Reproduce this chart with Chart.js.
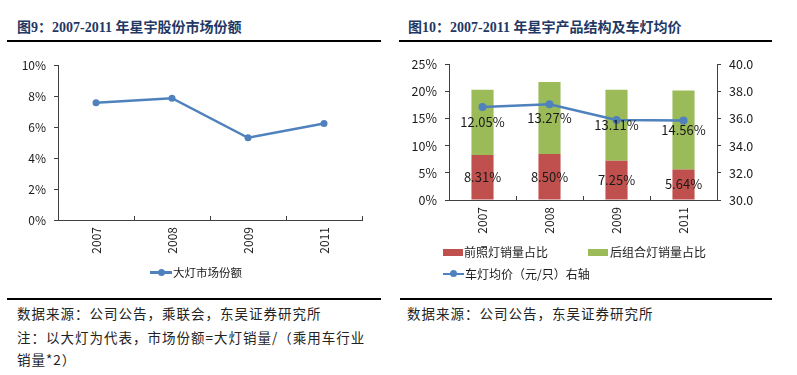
<!DOCTYPE html>
<html>
<head>
<meta charset="utf-8">
<script src="https://cdn.jsdelivr.net/npm/chart.js@4.4.1/dist/chart.umd.min.js"></script>
<style>
  body { margin:0; background:#fff; width:797px; height:375px; position:relative; overflow:hidden;
         font-family:"Noto Sans CJK SC", sans-serif; }
  .abs { position:absolute; }
  .title { font-family:"Liberation Serif","Noto Sans CJK SC",serif; font-weight:bold; font-size:14px;
           color:#1F3864; line-height:18px; white-space:nowrap; }
  .rule { background:#000; height:2px; }
  .foot { font-family:"Noto Sans CJK SC",serif; font-size:13.5px; color:#222; line-height:22px;
          letter-spacing:1px; white-space:nowrap; }
  .leg { font-size:12px; color:#1a1a1a; line-height:16px; white-space:nowrap; }
  .sw { position:absolute; }
</style>
</head>
<body>
<div class="abs title" style="left:17px; top:19px;">图9：2007-2011 年星宇股份市场份额</div>
<div class="abs title" style="left:408px; top:19px;">图10：2007-2011 年星宇产品结构及车灯均价</div>
<div class="abs rule" style="left:7px; top:40px; width:374px;"></div>
<div class="abs rule" style="left:399px; top:40px; width:373px;"></div>

<div class="abs" style="left:0px; top:50px; width:390px; height:210px;"><canvas id="shareChart"></canvas></div>
<div class="abs" style="left:400px; top:49px; width:397px; height:191px;"><canvas id="mixChart"></canvas></div>

<!-- legend left -->
<div class="sw" style="left:150px; top:271px; width:22px; height:2.5px; background:#4F81BD;"></div>
<div class="sw" style="left:157.5px; top:268.5px; width:7px; height:7px; border-radius:50%; background:#4F81BD;"></div>
<div class="abs leg" style="left:173px; top:264px; font-size:11.5px;">大灯市场份额</div>

<!-- legend right -->
<div class="sw" style="left:443px; top:249px; width:20px; height:7px; background:#C0504D;"></div>
<div class="abs leg" style="left:464px; top:244px;">前照灯销量占比</div>
<div class="sw" style="left:588px; top:249px; width:20px; height:7px; background:#9BBB59;"></div>
<div class="abs leg" style="left:610px; top:244px;">后组合灯销量占比</div>
<div class="sw" style="left:443px; top:272.5px; width:21px; height:2.5px; background:#4F81BD;"></div>
<div class="sw" style="left:450px; top:270px; width:7px; height:7px; border-radius:50%; background:#4F81BD;"></div>
<div class="abs leg" style="left:465px; top:266px;">车灯均价（元/只）右轴</div>

<div class="abs rule" style="left:7px; top:298px; width:374px;"></div>
<div class="abs rule" style="left:400px; top:298px; width:372px;"></div>

<div class="abs foot" style="left:17px; top:302px;">数据来源：公司公告，乘联会，东吴证券研究所</div>
<div class="abs foot" style="left:17px; top:326px;">注：以大灯为代表，市场份额=大灯销量/（乘用车行业</div>
<div class="abs foot" style="left:17px; top:348px;">销量*2）</div>
<div class="abs foot" style="left:407px; top:302px;">数据来源：公司公告，东吴证券研究所</div>

<script>
// 数据
const years = ['2007', '2008', '2009', '2011'];
const marketShare = [7.57, 7.87, 5.31, 6.24];        // 大灯市场份额 %
const headlampShare = [8.31, 8.50, 7.25, 5.64];      // 前照灯销量占比 %
const rearlampShare = [12.05, 13.27, 13.11, 14.56];  // 后组合灯销量占比 %
const avgPrice = [36.87, 37.06, 35.90, 35.87];       // 车灯均价 元/只

const FONT = '"Noto Sans CJK SC", sans-serif';
const axisColor = '#404040';
const tickColor = '#1a1a1a';

Chart.defaults.font.family = FONT;
Chart.defaults.animation = false;

// Balkenbeschriftung in der Mitte
const BarLabels = {
    id: 'barLabels',
    afterDatasetsDraw(chart) {
        const {ctx} = chart;
        ctx.save();
        ctx.font = '13px ' + FONT;
        ctx.fillStyle = '#1a1a1a';
        ctx.textAlign = 'center';
        ctx.textBaseline = 'middle';
        chart.data.datasets.forEach((ds, i) => {
            if (ds.type !== 'bar') return;
            chart.getDatasetMeta(i).data.forEach((bar, j) => {
                const y = (bar.y + bar.base) / 2;
                ctx.fillText(ds.data[j].toFixed(2) + '%', bar.x, y);
            });
        });
        ctx.restore();
    }
};

function xAxis() {
    return {
        offset: true,
        border: {color: axisColor, width: 1},
        grid: {display: true, drawOnChartArea: false, offset: true, tickLength: -4, color: axisColor},
        ticks: {color: tickColor, font: {size: 12}, minRotation: 90, maxRotation: 90, padding: 11},
        afterFit: (s) => { s.height = 40; }
    };
}

new Chart(document.getElementById('shareChart'), {
    type: 'line',
    data: {
        labels: years,
        datasets: [{
            label: '大灯市场份额',
            data: marketShare,
            borderColor: '#4F81BD',
            backgroundColor: '#4F81BD',
            borderWidth: 2.5,
            pointRadius: 3.5,
            pointBorderWidth: 0,
            tension: 0
        }]
    },
    options: {
        responsive: true,
        maintainAspectRatio: false,
        layout: {padding: {left: 0, right: 28, top: 0, bottom: 0}},
        plugins: {legend: {display: false}, tooltip: {enabled: false}},
        scales: {
            x: xAxis(),
            y: {
                min: 0, max: 10,
                border: {color: axisColor, width: 1},
                grid: {drawOnChartArea: false, tickLength: 4, color: axisColor},
                ticks: {stepSize: 2, color: tickColor, font: {size: 12}, padding: 8,
                        callback: (v) => v + '%'},
                afterFit: (s) => { s.width = 58; }
            }
        }
    }
});

new Chart(document.getElementById('mixChart'), {
    data: {
        labels: years,
        datasets: [
            {
                type: 'line',
                label: '车灯均价（元/只）右轴',
                data: avgPrice,
                yAxisID: 'y1',
                order: 0,
                borderColor: '#4F81BD',
                backgroundColor: '#4F81BD',
                borderWidth: 2.5,
                pointRadius: 4,
                pointBorderWidth: 0,
                tension: 0
            },
            {
                type: 'bar',
                label: '前照灯销量占比',
                data: headlampShare,
                yAxisID: 'y',
                order: 1,
                backgroundColor: '#C0504D',
                barPercentage: 0.33,
                categoryPercentage: 1
            },
            {
                type: 'bar',
                label: '后组合灯销量占比',
                data: rearlampShare,
                yAxisID: 'y',
                order: 1,
                backgroundColor: '#9BBB59',
                barPercentage: 0.33,
                categoryPercentage: 1
            }
        ]
    },
    options: {
        responsive: true,
        maintainAspectRatio: false,
        layout: {padding: {left: 0, right: 30, top: 0, bottom: 0}},
        plugins: {legend: {display: false}, tooltip: {enabled: false}},
        scales: {
            x: Object.assign(xAxis(), {stacked: true}),
            y: {
                stacked: true,
                min: 0, max: 25,
                border: {color: axisColor, width: 1},
                grid: {drawOnChartArea: false, tickLength: 4, color: axisColor},
                ticks: {stepSize: 5, color: tickColor, font: {size: 12.5}, padding: 8,
                        callback: (v) => v + '%'},
                afterFit: (s) => { s.width = 49; }
            },
            y1: {
                position: 'right',
                min: 30, max: 40,
                border: {color: axisColor, width: 1},
                grid: {drawOnChartArea: false, tickLength: 4, color: axisColor},
                ticks: {stepSize: 2, color: tickColor, font: {size: 12.5}, padding: 8,
                        callback: (v) => v.toFixed(1)},
                afterFit: (s) => { s.width = 50; }
            }
        }
    },
    plugins: [BarLabels]
});
</script>
</body>
</html>
